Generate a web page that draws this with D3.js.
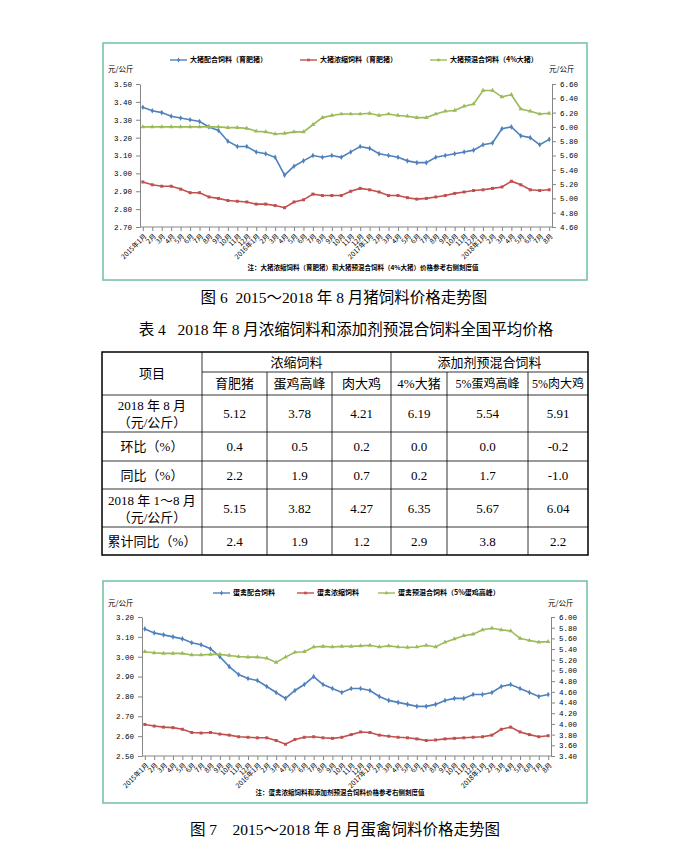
<!DOCTYPE html>
<html>
<head>
<meta charset="utf-8">
<script src="https://cdn.jsdelivr.net/npm/d3@7"></script>
<style>
body { margin: 0; background: #fff; }
svg { display: block; }
text { font-family: "Liberation Serif", "Noto Sans CJK SC", serif; fill: #000; white-space: pre; }
</style>
</head>
<body>
<svg id="page" width="690" height="849"></svg>
<script>
// months 2015-01 .. 2018-08
var years = [2015, 2016, 2017, 2018]
var months = []
years.forEach(function (y) {
  var n = y === 2018 ? 8 : 12
  for (var m = 1; m <= n; m++) months.push(m === 1 ? y + '年' + m + '月' : m + '月')
})

// pig feed (figure 6)
var pigCompound = [3.37, 3.35, 3.34, 3.32, 3.31, 3.30, 3.29, 3.26, 3.24, 3.18,
  3.15, 3.15, 3.12, 3.11, 3.09, 2.99, 3.04, 3.07, 3.10, 3.09,
  3.10, 3.09, 3.12, 3.15, 3.14, 3.11, 3.10, 3.09, 3.07, 3.06,
  3.06, 3.09, 3.10, 3.11, 3.12, 3.13, 3.16, 3.17, 3.25, 3.26,
  3.21, 3.20, 3.16, 3.19]
var pigConcentrate = [5.23, 5.19, 5.17, 5.17, 5.13, 5.08, 5.08, 5.02, 5.00, 4.97,
  4.96, 4.95, 4.92, 4.92, 4.90, 4.87, 4.95, 4.98, 5.06, 5.04,
  5.04, 5.04, 5.10, 5.14, 5.12, 5.09, 5.04, 5.04, 5.01, 4.99,
  5.00, 5.02, 5.04, 5.07, 5.09, 5.11, 5.12, 5.14, 5.16, 5.24,
  5.19, 5.12, 5.11, 5.12]
var pigPremix = [6.00, 6.00, 6.00, 6.00, 6.00, 6.00, 6.00, 6.00, 6.00, 5.99,
  5.99, 5.98, 5.94, 5.93, 5.90, 5.91, 5.93, 5.93, 6.03, 6.13,
  6.16, 6.18, 6.18, 6.18, 6.19, 6.16, 6.18, 6.16, 6.15, 6.13,
  6.13, 6.18, 6.22, 6.23, 6.29, 6.32, 6.51, 6.51, 6.42, 6.45,
  6.25, 6.22, 6.18, 6.19]
var pigLeftTicks = [2.70, 2.80, 2.90, 3.00, 3.10, 3.20, 3.30, 3.40, 3.50]
var pigRightTicks = [4.60, 4.80, 5.00, 5.20, 5.40, 5.60, 5.80, 6.00, 6.20, 6.40, 6.60]

// layer feed (figure 7)
var layerCompound = [3.14, 3.12, 3.11, 3.10, 3.09, 3.07, 3.06, 3.04, 3.00, 2.95,
  2.91, 2.89, 2.88, 2.85, 2.82, 2.79, 2.83, 2.86, 2.90, 2.86,
  2.84, 2.82, 2.84, 2.84, 2.83, 2.80, 2.78, 2.77, 2.76, 2.75,
  2.75, 2.76, 2.78, 2.79, 2.79, 2.81, 2.81, 2.82, 2.85, 2.86,
  2.84, 2.82, 2.80, 2.81]
var layerConcentrate = [3.99, 3.96, 3.94, 3.93, 3.90, 3.84, 3.83, 3.84, 3.81, 3.79,
  3.76, 3.75, 3.74, 3.74, 3.69, 3.62, 3.71, 3.75, 3.76, 3.74,
  3.73, 3.75, 3.80, 3.85, 3.84, 3.79, 3.77, 3.75, 3.74, 3.72,
  3.69, 3.70, 3.72, 3.73, 3.74, 3.75, 3.76, 3.79, 3.90, 3.94,
  3.85, 3.80, 3.76, 3.78]
var layerPremix = [5.35, 5.33, 5.32, 5.32, 5.32, 5.29, 5.29, 5.30, 5.30, 5.28,
  5.26, 5.25, 5.25, 5.23, 5.15, 5.25, 5.34, 5.35, 5.44, 5.45,
  5.44, 5.45, 5.45, 5.46, 5.47, 5.44, 5.46, 5.44, 5.43, 5.44,
  5.47, 5.44, 5.53, 5.59, 5.65, 5.68, 5.76, 5.79, 5.76, 5.74,
  5.60, 5.56, 5.53, 5.54]
var layerLeftTicks = [2.50, 2.60, 2.70, 2.80, 2.90, 3.00, 3.10, 3.20]
var layerRightTicks = [3.40, 3.60, 3.80, 4.00, 4.20, 4.40, 4.60, 4.80, 5.00, 5.20, 5.40, 5.60, 5.80, 6.00]

// table 4
var tableGroups = ['浓缩饲料', '添加剂预混合饲料']
var tableCols = ['育肥猪', '蛋鸡高峰', '肉大鸡', '4%大猪', '5%蛋鸡高峰', '5%肉大鸡']
var rowLabels = [['2018 年 8 月', '（元/公斤）'], ['环比（%）'], ['同比（%）'], ['2018 年 1～8 月', '（元/公斤）'], ['累计同比（%）']]
var rowValues = [
  [5.12, 3.78, 4.21, 6.19, 5.54, 5.91],
  [0.4, 0.5, 0.2, 0.0, 0.0, -0.2],
  [2.2, 1.9, 0.7, 0.2, 1.7, -1.0],
  [5.15, 3.82, 4.27, 6.35, 5.67, 6.04],
  [2.4, 1.9, 1.2, 2.9, 3.8, 2.2]
]
var rowDigits = [2, 1, 1, 2, 1]

var BLUE = '#4f81bd', RED = '#c0504d', GREEN = '#9bbb59'
var AXIS = '#868686'
var svg = d3.select('#page')
svg.append('rect').attr('width', 690).attr('height', 849).attr('fill', '#fff')

function drawChart (c) {
  var g = svg.append('g')
  // frame
  g.append('rect').attr('x', c.frame[0]).attr('y', c.frame[1])
    .attr('width', c.frame[2] - c.frame[0]).attr('height', c.frame[3] - c.frame[1])
    .attr('fill', '#fff').attr('stroke', '#6fc0a0').attr('stroke-width', 1.5)

  var idx = d3.range(months.length)
  var x = d3.scalePoint().domain(idx).range([c.xl, c.xr]).padding(0.3)
  var yl = d3.scaleLinear().domain(c.leftDomain).range([c.yb, c.yt])
  var yr = d3.scaleLinear().domain(c.rightDomain).range([c.yb, c.yt])

  var la = g.append('g').attr('transform', 'translate(' + c.xl + ',0)')
    .call(d3.axisLeft(yl).tickValues(c.leftTicks).tickFormat(d3.format('.2f')).tickSize(4).tickSizeOuter(0))
  var ra = g.append('g').attr('transform', 'translate(' + c.xr + ',0)')
    .call(d3.axisRight(yr).tickValues(c.rightTicks).tickFormat(d3.format('.2f')).tickSize(4).tickSizeOuter(0))
  var xa = g.append('g').attr('transform', 'translate(0,' + c.yb + ')')
    .call(d3.axisBottom(x).tickFormat(function (i) { return months[i] }).tickSize(4).tickSizeOuter(0))
  xa.select('.domain').remove()
  g.append('line').attr('x1', c.xl).attr('x2', c.xr).attr('y1', c.yb).attr('y2', c.yb)
    .attr('stroke', AXIS)

  ;[la, ra, xa].forEach(function (a) {
    a.selectAll('.domain, line').attr('stroke', AXIS)
    a.selectAll('text').style('font-family', '"Liberation Mono", "Noto Sans CJK SC", monospace')
      .style('font-size', '7.5px').attr('fill', '#222')
  })
  la.selectAll('text').attr('x', -8)
  ra.selectAll('text').attr('x', 8)
  xa.selectAll('text')
    .style('font-family', '"Noto Sans CJK SC", sans-serif').style('font-size', '6.8px')
    .attr('x', 0).attr('y', 0).attr('dy', '0.35em')
    .attr('transform', 'translate(2,8) rotate(-45)')
    .style('text-anchor', 'end')

  // lines
  c.series.forEach(function (s) {
    var y = s.axis === 'left' ? yl : yr
    var line = d3.line().x(function (d, i) { return x(i) }).y(function (d) { return y(d) })
    g.append('path').datum(s.values).attr('d', line)
      .attr('fill', 'none').attr('stroke', s.color).attr('stroke-width', 1.6)
    g.selectAll(null).data(s.values).enter().append('path')
      .attr('transform', function (d, i) { return 'translate(' + x(i) + ',' + y(d) + ')' })
      .attr('d', d3.symbol().type(s.marker).size(9))
      .attr('fill', s.color)
  })

  // legend
  c.series.forEach(function (s, i) {
    var lx = c.legendX[i]
    g.append('line').attr('x1', lx).attr('x2', lx + 17).attr('y1', c.legendY).attr('y2', c.legendY)
      .attr('stroke', s.color).attr('stroke-width', 1.4)
    g.append('path').attr('transform', 'translate(' + (lx + 8.5) + ',' + c.legendY + ')')
      .attr('d', d3.symbol().type(s.marker).size(7)).attr('fill', s.color)
    g.append('text').attr('x', lx + 20).attr('y', c.legendY).attr('dy', '0.35em')
      .style('font-family', '"Noto Sans CJK SC", sans-serif').style('font-size', '7px')
      .style('font-weight', 'bold').text(s.name)
  })

  // units
  g.append('text').attr('x', c.frame[0] + 5).attr('y', c.unitY).attr('dy', '0.35em')
    .style('font-family', '"Noto Sans CJK SC", sans-serif').style('font-size', '7.5px').attr('fill', '#222').text('元/公斤')
  g.append('text').attr('x', c.xr - 3).attr('y', c.unitY).attr('dy', '0.35em')
    .style('font-family', '"Noto Sans CJK SC", sans-serif').style('font-size', '7.5px').attr('fill', '#222').text('元/公斤')

  // note
  g.append('text').attr('x', c.noteX).attr('y', c.noteY).attr('dy', '0.35em')
    .attr('text-anchor', 'middle')
    .style('font-family', '"Noto Sans CJK SC", sans-serif').style('font-size', '6.5px')
    .style('font-weight', 'bold').text(c.note)

  // caption
  svg.append('text').attr('x', c.captionX).attr('y', c.captionY).attr('dy', '0.35em')
    .attr('text-anchor', 'middle').style('font-size', '15.5px').text(c.caption)
}

drawChart({
  frame: [103, 43, 587, 280],
  xl: 140, xr: 552, yt: 84, yb: 227,
  leftDomain: [2.70, 3.50], rightDomain: [4.60, 6.60],
  leftTicks: pigLeftTicks, rightTicks: pigRightTicks,
  series: [
    { name: '大猪配合饲料（育肥猪）', values: pigCompound, color: BLUE, axis: 'left', marker: d3.symbolDiamond },
    { name: '大猪浓缩饲料（育肥猪）', values: pigConcentrate, color: RED, axis: 'right', marker: d3.symbolSquare },
    { name: '大猪预混合饲料（4%大猪）', values: pigPremix, color: GREEN, axis: 'right', marker: d3.symbolTriangle }
  ],
  legendX: [170, 300, 430], legendY: 60, unitY: 69,
  note: '注：大猪浓缩饲料（育肥猪）和大猪预混合饲料（4%大猪）价格参考右侧刻度值',
  noteX: 363, noteY: 268,
  caption: '图 6  2015～2018 年 8 月猪饲料价格走势图', captionX: 344, captionY: 298
})

drawChart({
  frame: [103, 581, 587, 803],
  xl: 142, xr: 551, yt: 617, yb: 756,
  leftDomain: [2.50, 3.20], rightDomain: [3.40, 6.00],
  leftTicks: layerLeftTicks, rightTicks: layerRightTicks,
  series: [
    { name: '蛋禽配合饲料', values: layerCompound, color: BLUE, axis: 'left', marker: d3.symbolDiamond },
    { name: '蛋禽浓缩饲料', values: layerConcentrate, color: RED, axis: 'right', marker: d3.symbolSquare },
    { name: '蛋禽预混合饲料（5%蛋鸡高峰）', values: layerPremix, color: GREEN, axis: 'right', marker: d3.symbolTriangle }
  ],
  legendX: [213, 297, 378], legendY: 593, unitY: 603,
  note: '注：蛋禽浓缩饲料和添加剂预混合饲料价格参考右侧刻度值',
  noteX: 340, noteY: 793,
  caption: '图 7    2015～2018 年 8 月蛋禽饲料价格走势图', captionX: 345, captionY: 830
})

// table title
svg.append('text').attr('x', 346).attr('y', 330).attr('dy', '0.35em')
  .attr('text-anchor', 'middle').style('font-size', '15.5px')
  .text('表 4   2018 年 8 月浓缩饲料和添加剂预混合饲料全国平均价格')

// table
var colX = [102, 202, 267, 332, 391, 447, 528, 588]
var rowY = [352, 372, 395, 432, 461, 489, 527, 555]
var tb = svg.append('g')
function hline (y, x1, x2, w) {
  tb.append('line').attr('x1', x1).attr('x2', x2).attr('y1', y).attr('y2', y).attr('stroke', '#000').attr('stroke-width', w || 0.8)
}
function vline (x, y1, y2, w) {
  tb.append('line').attr('x1', x).attr('x2', x).attr('y1', y1).attr('y2', y2).attr('stroke', '#000').attr('stroke-width', w || 0.8)
}
hline(rowY[1], colX[1], colX[7])
rowY.slice(2, 7).forEach(function (y) { hline(y, colX[0], colX[7]) })
vline(colX[1], rowY[0], rowY[7]); vline(colX[4], rowY[0], rowY[7])
;[2, 3, 5, 6].forEach(function (i) { vline(colX[i], rowY[1], rowY[7]) })
tb.append('rect').attr('x', colX[0]).attr('y', rowY[0]).attr('width', colX[7] - colX[0])
  .attr('height', rowY[7] - rowY[0]).attr('fill', 'none').attr('stroke', '#000').attr('stroke-width', 1.5)

function cell (x, y, t, size) {
  tb.append('text').attr('x', x).attr('y', y).attr('dy', '0.35em').attr('text-anchor', 'middle')
    .style('font-size', (size || 13) + 'px').text(t)
}
cell((colX[0] + colX[1]) / 2, (rowY[0] + rowY[2]) / 2, '项目')
cell((colX[1] + colX[4]) / 2, (rowY[0] + rowY[1]) / 2, tableGroups[0])
cell((colX[4] + colX[7]) / 2, (rowY[0] + rowY[1]) / 2, tableGroups[1])
tableCols.forEach(function (t, i) { cell((colX[i + 1] + colX[i + 2]) / 2, (rowY[1] + rowY[2]) / 2, t, i >= 4 ? 12 : 13) })
rowLabels.forEach(function (lab, r) {
  var cy = (rowY[r + 2] + rowY[r + 3]) / 2
  if (lab.length === 2) {
    cell((colX[0] + colX[1]) / 2, cy - 8, lab[0])
    cell((colX[0] + colX[1]) / 2, cy + 9, lab[1])
  } else {
    cell((colX[0] + colX[1]) / 2, cy, lab[0])
  }
  rowValues[r].forEach(function (v, i) {
    cell((colX[i + 1] + colX[i + 2]) / 2, cy, d3.format('.' + rowDigits[r] + 'f')(v).replace('−', '-'))
  })
})
</script>
</body>
</html>
